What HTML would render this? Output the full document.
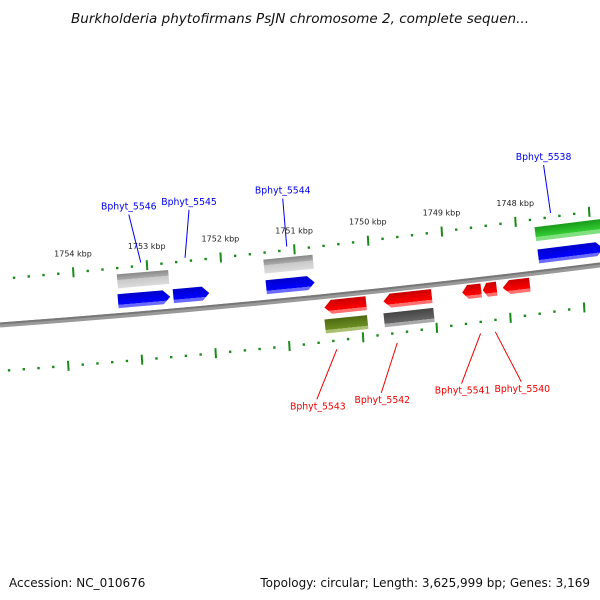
<!DOCTYPE html>
<html><head><meta charset="utf-8"><style>
body{margin:0;background:#fff}
svg{display:block}
text{font-family:"DejaVu Sans","Liberation Sans",sans-serif}
</style></head><body>
<svg id="c" width="600" height="600" viewBox="0 0 600 600">
<defs>
<linearGradient id="gb" x1="0" y1="0" x2="0" y2="1"><stop offset="0" stop-color="#0000c8"/><stop offset="0.75" stop-color="#0000ff"/><stop offset="0.76" stop-color="#6a6aff"/><stop offset="1" stop-color="#6a6aff"/></linearGradient>
<linearGradient id="gr" x1="0" y1="0" x2="0" y2="1"><stop offset="0" stop-color="#c80000"/><stop offset="0.75" stop-color="#ff0000"/><stop offset="0.76" stop-color="#ff7070"/><stop offset="1" stop-color="#ff7070"/></linearGradient>
<linearGradient id="gg" x1="0" y1="0" x2="0" y2="1"><stop offset="0" stop-color="#888"/><stop offset="0.4" stop-color="#aaa"/><stop offset="0.41" stop-color="#c8c8c8"/><stop offset="1" stop-color="#dcdcdc"/></linearGradient>
<linearGradient id="gd" x1="0" y1="0" x2="0" y2="1"><stop offset="0" stop-color="#444"/><stop offset="0.75" stop-color="#666"/><stop offset="0.76" stop-color="#aaa"/><stop offset="1" stop-color="#aaa"/></linearGradient>
<linearGradient id="go" x1="0" y1="0" x2="0" y2="1"><stop offset="0" stop-color="#4e6a10"/><stop offset="0.75" stop-color="#6b8e23"/><stop offset="0.76" stop-color="#a8c070"/><stop offset="1" stop-color="#a8c070"/></linearGradient>
<linearGradient id="gn" x1="0" y1="0" x2="0" y2="1"><stop offset="0" stop-color="#1a9a1a"/><stop offset="0.7" stop-color="#33cc33"/><stop offset="0.71" stop-color="#80e080"/><stop offset="1" stop-color="#80e080"/></linearGradient>
</defs>
<text x="300" y="23" font-size="13" font-style="italic" text-anchor="middle" fill="#111" textLength="458" lengthAdjust="spacingAndGlyphs">Burkholderia phytofirmans PsJN chromosome 2, complete sequen...</text>
<path d="M0,325 Q300,303 600,265" stroke="#999" stroke-width="5" fill="none"/>
<path d="M0,323.5 Q300,301.5 600,263.5" stroke="#777" stroke-width="2" fill="none"/>
<g id="ticks"></g><g id="genes"></g><g id="labels"></g>
<text x="9" y="587" font-size="12" fill="#111">Accession: NC_010676</text>
<text x="590" y="587" font-size="12" text-anchor="end" fill="#111">Topology: circular; Length: 3,625,999 bp; Genes: 3,169</text>
</svg>
<script>
const tickKbp=[1754,1753,1752,1751,1750,1749,1748];
const geneNames=["gray-a","Bphyt_5546","Bphyt_5545","gray-b","Bphyt_5544","green-a","Bphyt_5538","Bphyt_5543","olive-a","Bphyt_5542","dgray-a","Bphyt_5541","Bphyt_5541b","Bphyt_5540"];
const geneStart=[1753.40,1753.39,1752.64,1751.41,1751.38,1747.73,1747.69,1750.59,1750.58,1749.79,1749.78,1748.72,1748.44,1748.17];
const geneEnd=[1752.70,1752.68,1752.15,1750.74,1750.72,1746.80,1746.80,1750.02,1750.00,1749.13,1749.10,1748.46,1748.25,1747.80];
const geneStrand=[1,1,1,1,1,1,1,-1,-1,-1,-1,-1,-1,-1];
const geneTrack=[2,1,1,2,1,2,1,1,2,1,2,1,1,1];
const geneKind=["gg","gb","gb","gg","gb","gn","gb","gr","go","gr","gd","gr","gr","gr"];
const labelNames=["Bphyt_5546","Bphyt_5545","Bphyt_5544","Bphyt_5538","Bphyt_5543","Bphyt_5542","Bphyt_5541","Bphyt_5540"];
const labelKbp=[1753.08,1752.48,1751.10,1747.52,1750.42,1749.60,1748.47,1748.27];
const labelStrand=[1,1,1,1,-1,-1,-1,-1];

const NS="http://www.w3.org/2000/svg";
const xOf=k=>73+(1754-k)*73.7;
const yB=x=>323-0.0733*x-4.44e-5*x*x;
const ang=x=>Math.atan(-0.0733-8.88e-5*x)*180/Math.PI;
const fw=x=>1+0.2*x/600;
function mk(tag,attrs,parent){const e=document.createElementNS(NS,tag);for(const k in attrs)e.setAttribute(k,attrs[k]);parent.appendChild(e);return e;}
const tg=document.getElementById('ticks'),gg=document.getElementById('genes'),lg=document.getElementById('labels');
for(let s=0;s<=44;s++){
  const kk=Math.round((1755.2-s*0.2)*10)/10;
  const major=Math.abs(kk-Math.round(kk))<0.01;
  const x=xOf(kk);
  const xi=x-5, yi=yB(xi)+48-((xi>300)?(xi-300)*0.02:0);
  const yo=yB(x)-44*fw(x);
  [[x,yo,'outer'],[xi,yi,'inner']].forEach(([px,py,n])=>{
    if(px<2||px>598)return;
    const t=mk('line',{x1:px,y1:py-(major?5:1.2),x2:px+(major?0.6:0),y2:py+(major?5:1.2),stroke:'#1a8a1a','stroke-width':major?2:2.4},tg);
    
    
  });
}
tickKbp.forEach(k=>{
  const x=xOf(k);
  const t=mk('text',{x:x,y:yB(x)-44*fw(x)-16,'font-size':8,'text-anchor':'middle',fill:'#222'},tg);
  t.textContent=k+' kbp';
  
  
});
geneNames.forEach((n,i)=>{
  const x1=xOf(geneStart[i]),x2=xOf(geneEnd[i]);
  const cx=(x1+x2)/2,w=x2-x1,h=14;
  let off;
  if(geneStrand[i]>0) off=(geneTrack[i]==1?-12:-31)*fw(cx);
  else off=geneTrack[i]==1?13:32;
  const cy=yB(cx)+off;
  const g=mk('g',{transform:`translate(${cx},${cy}) rotate(${ang(cx)})`},gg);
  let d;const a=Math.min(7,w*0.3),hw=w/2,hh=h/2;
  const arrow=geneKind[i]=='gb'||geneKind[i]=='gr';
  if(!arrow) d=`M${-hw},${-hh}H${hw}V${hh}H${-hw}Z`;
  else if(geneStrand[i]>0) d=`M${-hw},${-hh}H${hw-a}L${hw},0L${hw-a},${hh}H${-hw}Z`;
  else d=`M${hw},${-hh}H${-hw+a}L${-hw},0L${-hw+a},${hh}H${hw}Z`;
  const p=mk('path',{d:d,fill:`url(#${geneKind[i]})`},g);
  
  
});
labelNames.forEach((n,i)=>{
  const x=xOf(labelKbp[i]);
  let lx,ly,ex,ey,tx,ty;
  if(labelStrand[i]>0){
    ex=x;ey=yB(x)-44*fw(x)-6*fw(x)+3;
    lx=x-[12,-4,4,7][i];ly=ey-48;tx=lx;ty=ly-5;
  } else {
    ex=x;ey=yB(x)+48+8;
    const j=i-4;
    const dx=[-20,-16,-19,26][j];
    lx=x+dx;ly=ey+50;tx=lx+1;ty=ly+10;
  }
  const col=labelStrand[i]>0?'#0000ee':'#ee0000';
  const l=mk('line',{x1:lx,y1:ly,x2:ex,y2:ey,stroke:col,'stroke-width':1},lg);
  
  
  const t=mk('text',{x:tx,y:ty,'font-size':9.3,'text-anchor':'middle',fill:col},lg);
  t.textContent=n;
  
  
});
</script>
</body></html>
